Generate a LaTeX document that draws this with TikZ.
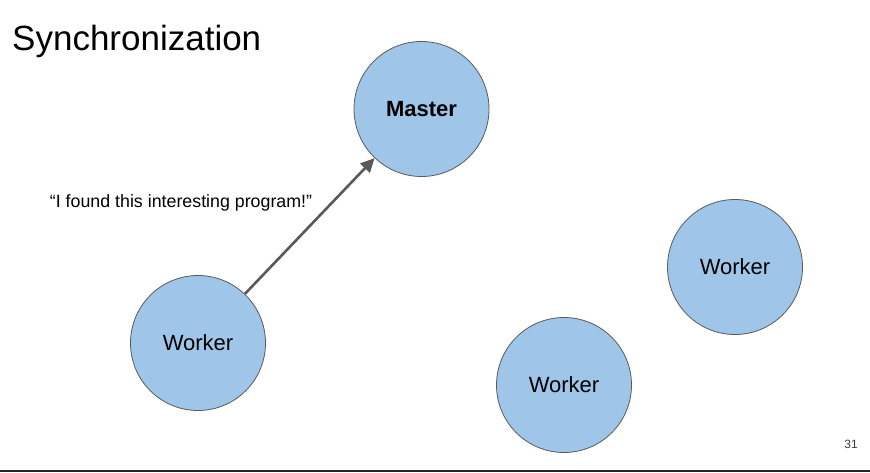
\documentclass[tikz,border=0pt]{standalone}
\usepackage{fontspec}
\setmainfont{Liberation Sans}
\usetikzlibrary{arrows.meta}
\definecolor{nodefill}{HTML}{9FC5E8}
\definecolor{nodeedge}{HTML}{595959}
\definecolor{arrowgray}{HTML}{595959}
\begin{document}
\begin{tikzpicture}[x=1pt,y=-1pt,
  agent/.style={circle, draw=nodeedge, line width=0.8pt, fill=nodefill,
    minimum size=135pt, inner sep=0pt, font=\fontsize{22}{26}\selectfont},
  msg/.style={draw=arrowgray, line width=2.6pt,
    -{Triangle[length=14pt,width=13pt]}}]
\useasboundingbox (0,0) rectangle (870,472);
\fill[white] (0,0) rectangle (870,472);
\node[anchor=base west, inner sep=0pt, font=\fontsize{35}{40}\selectfont] (title) at (12,50) {Synchronization};
\node[agent, font=\fontsize{22}{26}\selectfont\bfseries] (master) at (421.5,109) {Master};
\node[agent] (w1) at (198,343) {Worker};
\node[agent] (w2) at (735,267) {Worker};
\node[agent] (w3) at (564,385) {Worker};
\draw[msg] (w1) -- (master);
\node[anchor=base, inner sep=0pt, font=\fontsize{17.8}{20}\selectfont] (quote) at (181,207) {“I found this interesting program!”};
\node[anchor=base, inner sep=0pt, font=\fontsize{12}{14}\selectfont, text=black!75] (page) at (851,448) {31};
\coordinate (la) at (0,470.5);
\coordinate (lb) at (870,470.5);
\draw[line width=2pt, black!85] (la) -- (lb);
\end{tikzpicture}
\end{document}
